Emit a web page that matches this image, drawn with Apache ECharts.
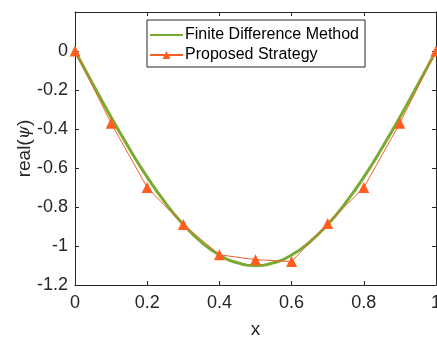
<!DOCTYPE html>
<html><head><meta charset="utf-8">
<script src="https://cdn.jsdelivr.net/npm/echarts@6/dist/echarts.min.js"></script>
<style>html,body{margin:0;padding:0;background:#fff}#c{width:437px;height:337px}</style>
</head><body><div id="c"></div>
<script>
var fdX = [0,0.05,0.1,0.15,0.2,0.25,0.3,0.35,0.4,0.45,0.5,0.55,0.6,0.65,0.7,0.75,0.8,0.85,0.9,0.95,1];
var fdY = [0,-0.172,-0.34,-0.499,-0.647,-0.778,-0.89,-0.98,-1.046,-1.086,-1.1,-1.086,-1.046,-0.98,-0.89,-0.778,-0.647,-0.499,-0.34,-0.172,0];
var psX = [0,0.1,0.2,0.3,0.4,0.5,0.6,0.7,0.8,0.9,1];
var psY = [0,-0.37,-0.70,-0.89,-1.045,-1.07,-1.08,-0.885,-0.70,-0.37,0];
var xTicks = [0,0.2,0.4,0.6,0.8,1];
var yTicks = [-1.2,-1,-0.8,-0.6,-0.4,-0.2,0];

var font = 'Liberation Sans, Arial, sans-serif';
var ink = '#262626';
function pairs(xs, ys){ return xs.map(function(x,i){return [x, ys[i]];}); }
var axisLineStyle = {onZero:false, lineStyle:{color:ink, width:1}};
var tick = {inside:true, length:4, lineStyle:{color:ink}};
var chart = echarts.init(document.getElementById('c'));
chart.setOption({
  animation:false,
  grid:{left:75, right:1, top:12, bottom:52, containLabel:false, outerBoundsMode:'none'},
  legend:{
    top:20, left:147, orient:'vertical', itemGap:4, itemWidth:33, itemHeight:10,
    padding:[7,6,4,2], borderColor:ink, borderWidth:1, backgroundColor:'#fff',
    textStyle:{fontFamily:font, fontSize:16, color:'#000', padding:[0,0,0,-3]},
    data:[{name:'Finite Difference Method', itemStyle:{opacity:0}},{name:'Proposed Strategy'}]
  },
  xAxis:[{
    type:'value', min:0, max:1, interval:0.2, position:'bottom',
    name:'x', nameLocation:'middle', nameGap:35, nameMoveOverlap:false,
    nameTextStyle:{fontFamily:font, fontSize:19, color:ink},
    axisLine:axisLineStyle, axisTick:tick,
    splitLine:{show:false},
    axisLabel:{fontFamily:font, fontSize:18, color:ink, margin:9,
      formatter:function(v){return String(Math.round(v*10)/10);}}
  },{
    type:'value', min:0, max:1, interval:0.2, position:'top',
    axisLine:axisLineStyle, axisTick:tick,
    axisLabel:{show:false}, splitLine:{show:false}
  }],
  yAxis:[{
    type:'value', min:-1.2, max:0.2, interval:0.2, position:'left',
    name:'{a|real(}{b|ψ}{a|)}', nameLocation:'middle', nameGap:41, nameRotate:90, nameMoveOverlap:false,
    nameTextStyle:{rich:{a:{fontFamily:font, fontSize:19, color:ink}, b:{fontFamily:'DejaVu Serif, serif', fontStyle:'italic', fontSize:17, color:ink}}},
    axisLine:axisLineStyle, axisTick:tick,
    splitLine:{show:false},
    axisLabel:{fontFamily:font, fontSize:18, color:ink, margin:7,
      formatter:function(v){ if (v > 0.05) return ''; return String(Math.round(v*10)/10);}}
  },{
    type:'value', min:-1.2, max:0.2, interval:0.2, position:'right',
    axisLine:axisLineStyle, axisTick:tick,
    axisLabel:{show:false}, splitLine:{show:false}
  }],
  series:[{
    name:'Finite Difference Method', type:'line', smooth:true, symbol:'none',
    data:pairs(fdX, fdY), lineStyle:{color:'#77AC30', width:3}, itemStyle:{color:'#77AC30'}, z:2
  },{
    name:'Proposed Strategy', type:'line', symbol:'triangle', symbolSize:11,
    data:pairs(psX, psY), lineStyle:{color:'#F5602A', width:1}, itemStyle:{color:'#FF5E1F'}, z:3
  }]
});
</script></body></html>
